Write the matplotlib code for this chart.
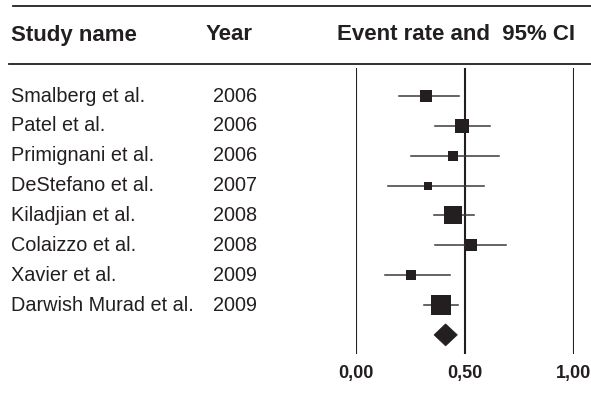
import matplotlib
matplotlib.use("Agg")
import matplotlib.pyplot as plt
from matplotlib.lines import Line2D
from matplotlib.patches import Polygon

plt.rcParams['font.family'] = ['Liberation Sans', 'DejaVu Sans']

studies = ["Smalberg et al.", "Patel et al.", "Primignani et al.", "DeStefano et al.",
           "Kiladjian et al.", "Colaizzo et al.", "Xavier et al.", "Darwish Murad et al."]
years = ["2006", "2006", "2006", "2007", "2008", "2008", "2009", "2009"]
rate = [0.319, 0.487, 0.446, 0.330, 0.447, 0.528, 0.252, 0.388]
lower = [0.199, 0.362, 0.252, 0.145, 0.359, 0.362, 0.133, 0.314]
upper = [0.474, 0.614, 0.656, 0.586, 0.540, 0.687, 0.430, 0.467]
weight = [13, 15, 10, 7.7, 19, 12, 10, 21]   # relative square size
pooled_rate, pooled_lo, pooled_hi = 0.411, 0.358, 0.465
xticks = [0.0, 0.5, 1.0]
xticklabels = ["0,00", "0,50", "1,00"]

W, H = 591, 393
fig = plt.figure(figsize=(W / 100, H / 100), dpi=100)
col = '#231f20'

# axes: x 0 -> px 356, 1 -> px 574 ; y rows 96 + 29.86*i
px0, px1 = 356, 574
top_px, bot_px = 68, 354
row0, step = 96, 29.86
ax = fig.add_axes([px0 / W, (H - bot_px) / H, (px1 - px0) / W, (bot_px - top_px) / H])
ax.set_xlim(0, 1)
ax.set_ylim((bot_px - row0) / step, (top_px - row0) / step)
for s in ax.spines.values():
    s.set_visible(False)
ax.tick_params(axis='x', length=0, pad=8, labelsize=13)
ax.set_xticks(xticks)
ax.set_xticklabels(xticklabels, fontweight='bold', color=col)
ax.set_yticks([])

for x in xticks:
    ax.axvline(x, color=col, lw=1.5, zorder=1)

n = len(studies)
for i in range(n):
    ax.plot([lower[i], upper[i]], [i, i], color='#3a3a3a', lw=1.1, zorder=2)
    ax.plot(rate[i], i, marker='s', markersize=weight[i] / 1.389, color=col,
            markeredgewidth=0, zorder=3)

h = 11 / step
diamond = Polygon([(pooled_lo, n), (pooled_rate, n - h), (pooled_hi, n), (pooled_rate, n + h)],
                  closed=True, facecolor=col, edgecolor=col, lw=0.5, zorder=3)
ax.add_patch(diamond)

# text columns
fs = 14.3
for i in range(n):
    yf = (H - (row0 + step * i)) / H
    fig.text(11 / W, yf, studies[i], fontsize=fs, color=col, va='center', ha='left')
    fig.text(213 / W, yf, years[i], fontsize=fs, color=col, va='center', ha='left')

hy = (H - 35) / H
hfs = 16
fig.text(11 / W, hy, "Study name", fontsize=hfs, fontweight='bold', color=col, va='center')
fig.text(206 / W, hy, "Year", fontsize=hfs, fontweight='bold', color=col, va='center')
fig.text(575 / W, hy, "Event rate and  95% CI", fontsize=hfs, fontweight='bold',
         color=col, va='center', ha='right')

fig.add_artist(Line2D([13 / W, 1], [(H - 6) / H] * 2, color=col, lw=1.3))
fig.add_artist(Line2D([9 / W, 1], [(H - 64) / H] * 2, color=col, lw=1.3))

fig.savefig("out.png", dpi=100)
